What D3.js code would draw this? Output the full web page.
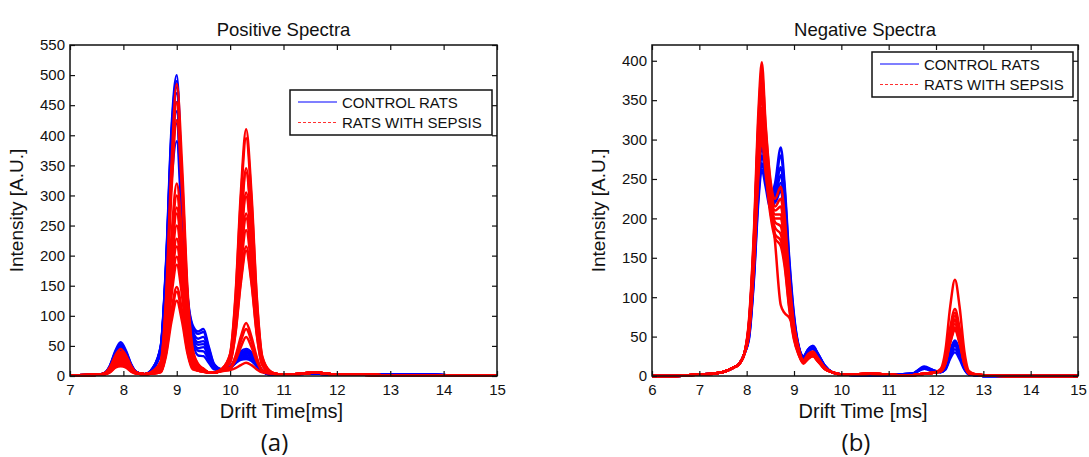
<!DOCTYPE html>
<html lang="en">
<head>
<meta charset="UTF-8">
<title>Positive / Negative Spectra</title>
<script src="https://d3js.org/d3.v7.min.js"></script>
<style>
  body { margin: 0; background: #fff; }
  text { font-family: "Liberation Sans", Arial, sans-serif; fill: #111; }
</style>
</head>
<body>
<script>
// ---- data ----
const posTimes = [7.0, 7.5, 7.65, 7.75, 7.85, 7.95, 8.05, 8.15, 8.25, 8.4, 8.55, 8.7, 8.8, 8.9, 9.0, 9.1, 9.2, 9.3, 9.4, 9.5,
  9.6, 9.7, 9.85, 10.0, 10.1, 10.2, 10.3, 10.4, 10.5, 10.6, 10.75, 10.9, 11.2, 11.6, 12.0, 12.5, 13.0, 13.4, 13.8, 14.3, 15.0];

const posControl = [
  [1,2,5,18,42,56,42,19,6,3,13,50,190,410,500,312,138,84,74,78,49,20,11,16,28,41,45,39,23,10,3,3,3,4,2,2,3,3,2,1,1],
  [1,2,5,17,40,53,40,18,6,3,13,49,186,402,490,305,134,81,70,73,46,19,11,15,27,38,42,36,22,9,3,3,3,4,2,2,3,3,2,1,1],
  [1,2,5,16,38,50,38,17,6,3,12,47,179,385,470,291,128,75,62,65,41,17,10,15,25,35,38,33,20,9,3,3,3,4,2,2,3,3,2,1,1],
  [1,2,5,15,37,48,37,16,6,3,12,46,173,373,455,282,124,71,56,58,37,16,10,14,24,33,35,31,19,8,3,3,3,4,2,2,3,3,2,1,1],
  [1,2,5,15,35,46,35,16,6,3,12,44,167,361,440,273,119,67,52,53,34,15,10,14,22,30,32,28,17,8,3,3,3,4,2,2,3,3,2,1,1],
  [1,2,5,14,34,44,34,15,6,3,11,39,148,320,390,242,106,59,46,48,31,14,10,14,22,29,30,27,17,8,3,3,3,4,2,2,3,3,2,1,1],
  [1,2,5,16,38,50,38,17,6,3,13,48,182,394,480,298,129,65,42,41,27,13,10,15,26,37,40,35,21,9,3,3,3,4,2,2,3,3,2,1,1],
  [1,2,4,14,32,42,32,14,5,3,11,42,160,344,420,260,112,56,34,33,22,11,9,13,21,27,28,25,16,7,3,3,3,4,2,2,3,3,2,1,1]
];

const posSepsis = [
  [1,2,5,15,34,45,34,16,6,3,8,24,131,349,485,349,146,44,20,12,6,6,12,37,133,303,410,303,131,33,8,3,3,6,2,2,1,1,1,1,1],
  [1,2,4,13,31,40,31,14,5,3,8,23,123,328,455,328,137,41,19,12,6,6,12,36,128,292,395,292,126,32,8,3,3,6,2,2,1,1,1,1,1],
  [1,2,4,13,29,38,29,14,5,3,7,21,115,306,425,306,128,38,18,11,6,6,11,32,113,255,345,255,111,28,7,3,3,6,2,2,1,1,1,1,1],
  [1,2,4,12,27,35,27,13,5,3,6,16,86,230,320,230,96,29,15,10,6,6,11,32,111,250,338,250,109,28,7,3,3,6,2,2,1,1,1,1,1],
  [1,2,4,11,25,32,25,12,5,3,6,15,81,216,300,216,90,27,14,9,6,6,11,29,101,226,305,226,99,25,7,3,3,6,2,2,1,1,1,1,1],
  [1,2,4,10,24,30,24,11,5,3,6,14,76,202,280,202,84,25,13,9,6,6,11,29,98,221,298,221,96,25,7,3,3,6,2,2,1,1,1,1,1],
  [1,2,4,10,22,28,22,11,5,3,6,14,73,194,270,194,81,24,13,9,6,6,11,27,90,200,270,200,88,23,7,3,3,6,2,2,1,1,1,1,1],
  [1,2,4,10,21,27,21,11,5,3,6,13,68,180,250,180,75,23,13,9,6,6,11,26,87,194,262,194,85,22,7,3,3,6,2,2,1,1,1,1,1],
  [1,2,4,9,20,25,20,10,5,3,5,11,62,164,228,164,68,21,12,8,6,6,10,25,81,179,242,179,79,21,6,3,3,6,2,2,1,1,1,1,1],
  [1,2,3,9,19,24,19,10,4,3,5,11,58,155,215,155,65,19,11,8,6,6,10,23,73,159,215,159,71,19,6,3,3,6,2,2,1,1,1,1,1],
  [1,2,3,8,18,22,18,9,4,3,5,10,53,143,198,143,59,18,11,8,6,6,10,23,70,154,208,154,68,19,6,3,3,6,2,2,1,1,1,1,1],
  [1,2,3,8,16,20,16,9,4,3,5,9,50,133,185,133,56,17,11,8,6,6,9,14,33,65,88,65,31,10,5,3,3,6,2,2,1,1,1,1,1],
  [1,2,3,7,15,18,15,8,4,3,4,7,40,107,148,107,44,13,9,7,6,6,9,13,30,58,78,58,28,9,5,3,3,6,2,2,1,1,1,1,1],
  [1,2,3,7,15,18,15,8,4,3,4,7,38,101,140,101,42,13,9,7,6,6,9,13,26,48,65,48,24,9,5,3,3,6,2,2,1,1,1,1,1],
  [1,2,3,6,14,16,14,7,4,3,4,6,34,90,125,90,38,11,9,7,6,6,8,10,13,18,22,18,11,6,4,3,3,6,2,2,1,1,1,1,1]
];

const negTimes = [6.0, 6.5, 7.0, 7.3, 7.5, 7.7, 7.85, 7.95, 8.05, 8.15, 8.25, 8.32, 8.4, 8.5, 8.6, 8.72, 8.8, 8.9, 9.0, 9.1,
  9.2, 9.3, 9.4, 9.5, 9.65, 9.8, 10.0, 10.3, 10.6, 10.9, 11.2, 11.5, 11.75, 11.95, 12.1, 12.2, 12.3, 12.4, 12.5, 12.6,
  12.7, 12.85, 13.0, 13.5, 14.0, 15.0];

const negControl = [
  [0,0,2,3,5,10,16,28,68,169,319,375,300,240,225,240,205,125,68,36,25,34,38,29,13,5,2,1,1,1,2,3,12,7,5,12,32,45,32,11,2,1,0,0,0,0],
  [0,0,2,3,5,10,16,28,53,131,248,292,260,230,245,290,245,150,78,38,25,34,38,29,13,5,2,1,1,1,2,3,11,7,5,11,30,42,30,11,2,1,0,0,0,0],
  [0,0,2,3,5,10,16,28,50,126,238,280,255,225,238,280,238,145,75,37,24,33,37,28,13,5,2,1,1,1,2,3,10,6,5,11,29,40,28,10,2,1,0,0,0,0],
  [0,0,2,3,5,10,16,28,49,122,230,270,248,220,230,265,225,138,72,36,23,32,36,27,13,5,2,1,1,1,2,3,10,6,5,10,27,38,27,10,2,1,0,0,0,0],
  [0,0,2,3,5,10,16,28,47,118,223,262,240,212,222,255,216,132,70,35,23,32,35,26,12,5,2,1,1,1,2,3,9,6,5,9,24,34,24,9,2,1,0,0,0,0],
  [0,0,2,3,5,10,16,28,54,135,255,300,262,225,225,245,210,128,68,35,22,31,34,26,12,5,2,1,1,1,2,3,9,6,5,8,22,30,21,8,2,1,0,0,0,0],
  [0,0,2,3,5,10,16,28,61,153,289,340,285,235,220,235,200,122,65,34,23,32,36,27,13,5,2,1,1,1,2,3,11,7,5,12,32,44,31,11,2,1,0,0,0,0]
];

const negSepsis = [
  [0,0,2,3,5,10,16,28,72,179,338,398,320,250,225,240,205,125,65,33,20,27,30,23,11,5,2,2,3,2,1,1,3,4,9,33,88,122,87,31,6,2,1,0,0,0],
  [0,0,2,3,5,10,16,28,69,173,327,385,315,245,215,225,190,115,62,32,20,28,31,23,11,5,2,2,3,2,1,1,3,4,7,23,61,85,60,21,4,2,1,0,0,0],
  [0,0,2,3,5,10,16,28,67,167,315,370,305,240,210,215,180,110,60,31,19,26,29,22,10,5,2,2,3,2,1,1,3,4,7,22,58,80,57,20,4,2,1,0,0,0],
  [0,0,2,3,5,10,16,28,64,160,302,355,295,235,205,205,172,104,58,30,18,25,28,21,10,5,2,2,3,2,1,1,3,4,7,21,55,76,54,19,4,2,1,0,0,0],
  [0,0,2,3,5,10,16,28,61,153,289,340,285,228,200,200,168,100,55,30,18,24,27,20,9,5,2,2,3,2,1,1,3,4,7,19,52,72,51,18,4,2,1,0,0,0],
  [0,0,2,3,5,10,16,28,59,149,281,330,280,222,195,190,160,96,53,29,17,23,26,20,9,5,2,2,3,2,1,1,3,4,7,19,50,70,50,18,4,2,1,0,0,0],
  [0,0,2,3,5,10,16,28,58,144,272,320,272,215,188,180,152,92,50,28,17,23,26,20,9,5,2,2,3,2,1,1,3,4,6,18,48,66,47,17,3,2,1,0,0,0],
  [0,0,2,3,5,10,16,28,56,140,264,310,265,210,180,172,145,88,48,27,16,22,25,19,9,5,2,2,3,2,1,1,3,4,6,17,45,62,44,16,3,2,1,0,0,0],
  [0,0,2,3,5,10,16,28,54,135,255,300,258,205,175,165,140,85,46,27,16,22,25,19,9,5,2,2,3,2,1,1,3,4,6,16,42,58,41,15,3,2,1,0,0,0],
  [0,0,2,3,5,10,16,28,65,162,306,360,300,235,170,90,80,74,60,35,18,24,27,20,9,5,2,2,3,2,1,1,3,4,6,16,43,60,43,15,3,2,1,0,0,0]
];

const posXTicks = [7, 8, 9, 10, 11, 12, 13, 14, 15];
const posYTicks = [0, 50, 100, 150, 200, 250, 300, 350, 400, 450, 500, 550];
const negXTicks = [6, 7, 8, 9, 10, 11, 12, 13, 14, 15];
const negYTicks = [0, 50, 100, 150, 200, 250, 300, 350, 400];
const legendLabels = ["CONTROL RATS", "RATS WITH SEPSIS"];

const W = 1089, H = 457;
const svg = d3.select("body").append("svg")
  .attr("width", W).attr("height", H)
  .attr("viewBox", [0, 0, W, H]);
svg.append("rect").attr("width", W).attr("height", H).attr("fill", "#fff");

function drawPanel(p) {
  const x = d3.scaleLinear().domain(p.xDomain).range([p.left, p.right]);
  const y = d3.scaleLinear().domain(p.yDomain).range([p.bottom, p.top]);
  const g = svg.append("g");

  const clipId = "clip-" + p.id;
  g.append("clipPath").attr("id", clipId)
    .append("rect")
    .attr("x", p.left).attr("y", p.top - 2)
    .attr("width", p.right - p.left + 2).attr("height", p.bottom - p.top + 4);

  const line = d3.line().curve(d3.curveMonotoneX);
  const lines = g.append("g").attr("clip-path", `url(#${clipId})`)
    .attr("fill", "none").attr("stroke-linejoin", "round");

  lines.selectAll("path.ctrl")
    .data(p.control)
    .join("path")
    .attr("class", "ctrl")
    .attr("stroke", "#0000ff")
    .attr("stroke-width", 2.4)
    .attr("d", vals => line(vals.map((v, i) => [x(p.times[i]), y(v)])));

  lines.selectAll("path.seps")
    .data(p.sepsis)
    .join("path")
    .attr("class", "seps")
    .attr("stroke", "#ff0000")
    .attr("stroke-width", 2.5)
    .attr("d", vals => line(vals.map((v, i) => [x(p.times[i]), y(v)])));

  // axes with inward ticks (box style)
  const fs = "15px";
  const bx = g.append("g").attr("transform", `translate(0,${p.bottom})`)
    .call(d3.axisBottom(x).tickValues(p.xTicks).tickSize(-5).tickPadding(8));
  const tx = g.append("g").attr("transform", `translate(0,${p.top})`)
    .call(d3.axisTop(x).tickValues(p.xTicks).tickSize(-5).tickFormat(""));
  const ly = g.append("g").attr("transform", `translate(${p.left},0)`)
    .call(d3.axisLeft(y).tickValues(p.yTicks).tickSize(-5).tickPadding(5));
  const ry = g.append("g").attr("transform", `translate(${p.right},0)`)
    .call(d3.axisRight(y).tickValues(p.yTicks).tickSize(-5).tickFormat(""));
  [bx, tx, ly, ry].forEach(a => {
    a.select(".domain").remove();
    a.selectAll("line").attr("stroke", "#111").attr("stroke-width", 1.2);
    a.selectAll("text").attr("font-size", fs).attr("font-family", "Liberation Sans, Arial, sans-serif").attr("fill", "#111");
  });

  g.append("rect")
    .attr("x", p.left).attr("y", p.top)
    .attr("width", p.right - p.left).attr("height", p.bottom - p.top)
    .attr("fill", "none").attr("stroke", "#111").attr("stroke-width", 1.5);

  // title and labels
  const cx = (p.left + p.right) / 2;
  g.append("text").attr("x", cx).attr("y", 36).attr("text-anchor", "middle")
    .attr("font-size", "18.5px").text(p.title);
  g.append("text").attr("x", cx - 2).attr("y", 418).attr("text-anchor", "middle")
    .attr("font-size", "20px").text(p.xLabel);
  g.append("text").attr("transform", `translate(${p.left - 47},${(p.top + p.bottom) / 2}) rotate(-90)`)
    .attr("text-anchor", "middle").attr("font-size", "19px").text(p.yLabel);
  g.append("text").attr("x", cx - 9).attr("y", 451).attr("text-anchor", "middle")
    .style("font-family", "'Open Sans', 'Noto Sans', sans-serif")
    .attr("font-size", "24px").text(p.caption);

  // legend
  const L = p.legend;
  g.append("rect").attr("x", L.x).attr("y", L.y).attr("width", L.w).attr("height", L.h)
    .attr("fill", "#fff").attr("stroke", "#111").attr("stroke-width", 1.5);
  const items = [
    { label: legendLabels[0], color: "#0000ff", dash: null },
    { label: legendLabels[1], color: "#ff3030", dash: "3,2" }
  ];
  items.forEach((it, i) => {
    const yy = L.y + 12 + i * 20.5;
    g.append("line")
      .attr("x1", L.x + 8).attr("x2", L.x + 47)
      .attr("y1", yy).attr("y2", yy)
      .attr("stroke", it.color).attr("stroke-width", 1.2)
      .attr("stroke-dasharray", it.dash);
    g.append("text").attr("x", L.x + 52).attr("y", yy + 5.5)
      .attr("font-size", "15px").text(it.label);
  });
}

drawPanel({
  id: "pos", times: posTimes, control: posControl, sepsis: posSepsis,
  xDomain: [7, 15], yDomain: [0, 550], xTicks: posXTicks, yTicks: posYTicks,
  left: 70, right: 497, top: 45, bottom: 376,
  title: "Positive Spectra", xLabel: "Drift Time[ms]", yLabel: "Intensity [A.U.]", caption: "(a)",
  legend: { x: 290, y: 90, w: 202, h: 45 }
});

drawPanel({
  id: "neg", times: negTimes, control: negControl, sepsis: negSepsis,
  xDomain: [6, 15], yDomain: [0, 420], xTicks: negXTicks, yTicks: negYTicks,
  left: 652, right: 1078, top: 45, bottom: 376,
  title: "Negative Spectra", xLabel: "Drift Time [ms]", yLabel: "Intensity [A.U.]", caption: "(b)",
  legend: { x: 872, y: 52, w: 201, h: 45 }
});
</script>
</body>
</html>
